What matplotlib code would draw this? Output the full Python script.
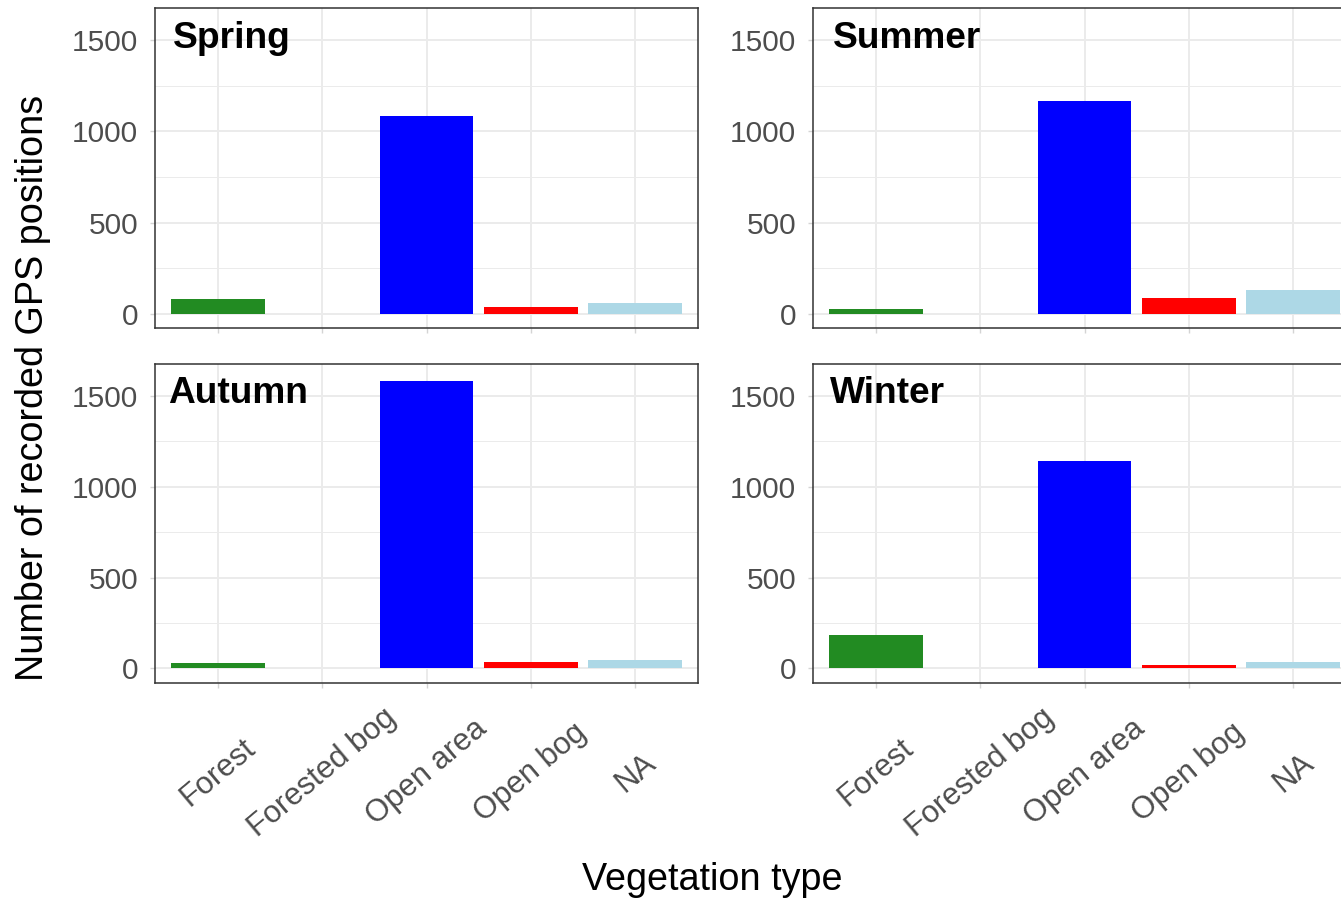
import numpy as np
import matplotlib
matplotlib.use("Agg")
from matplotlib import pyplot as plt
from matplotlib.ticker import MultipleLocator

plt.rcParams["font.family"] = ["Liberation Sans", "DejaVu Sans"]

categories = ["Forest", "Forested bog", "Open area", "Open bog", "NA"]
bar_colors = ["#228B22", "#A52A2A", "#0000FF", "#FF0000", "#ADD8E6"]

seasons = ["Spring", "Summer", "Autumn", "Winter"]
spring = [80, 0, 1085, 38, 57]
summer = [26, 0, 1168, 84, 132]
autumn = [30, 0, 1583, 37, 44]
winter = [182, 5, 1142, 19, 37]
season_counts = [spring, summer, autumn, winter]

W, H = 1341, 901
fig = plt.figure(figsize=(W / 100, H / 100), dpi=100)

# panel boxes in pixels: (left, top, width, height)
panel_px = [
    (155, 8.3, 543, 320),
    (813, 8.3, 543, 320),
    (155, 364, 543, 319),
    (813, 364, 543, 319),
]
title_x = [0.033, 0.036, 0.024, 0.031]

grid_col = "#EBEBEB"
tick_col = "#D4D4D4"
label_col = "#4D4D4D"

x = np.arange(len(categories))
for i, (season, counts) in enumerate(zip(seasons, season_counts)):
    l, t, w, h = panel_px[i]
    ax = fig.add_axes([l / W, 1 - (t + h) / H, w / W, h / H])
    ax.bar(x, counts, width=0.9, color=bar_colors, linewidth=0, zorder=3)
    ax.set_xlim(-0.6, len(categories) - 0.4)
    ax.set_ylim(-80, 1675)
    ax.yaxis.set_major_locator(MultipleLocator(500))
    ax.yaxis.set_minor_locator(MultipleLocator(250))
    ax.set_xticks(x)
    ax.set_axisbelow(True)
    ax.grid(which="major", color=grid_col, linewidth=1.4, zorder=0)
    ax.grid(which="minor", axis="y", color=grid_col, linewidth=0.7, zorder=0)
    ax.tick_params(axis="y", which="minor", length=0)
    ax.tick_params(axis="both", which="major", length=3.6, width=1.0,
                   color=tick_col, labelcolor=label_col, labelsize=21.4)
    ax.tick_params(axis="y", pad=8.4)
    if i >= 2:
        ax.set_xticklabels(categories, rotation=40, ha="center", va="center",
                           fontsize=22.3)
        ax.tick_params(axis="x", pad=61)
    else:
        ax.set_xticklabels([])
    for sp in ax.spines.values():
        sp.set_color("#333333")
        sp.set_linewidth(1.1)
        sp.set_zorder(4)
    ax.text(title_x[i], 0.877, season, transform=ax.transAxes,
            fontsize=26.7, fontweight="bold", ha="left", va="baseline",
            color="black", zorder=5)

fig.text(33 / W, 1 - 388 / H, "Number of recorded GPS positions", rotation=90,
         ha="center", va="center", fontsize=27.2, color="black")
fig.text(712 / W, 1 - 880 / H, "Vegetation type", ha="center", va="center",
         fontsize=27.2, color="black")

fig.savefig("out.png", dpi=100)
